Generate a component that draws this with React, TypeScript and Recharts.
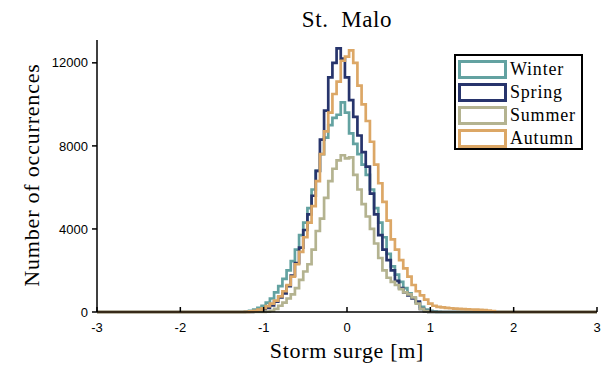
import { LineChart, Line, XAxis, YAxis, Label } from 'recharts';

// bin centres [m]; the outer -3 / 3 points only carry the empty tails
const surge = [
  -3, -1.3, -1.25, -1.2, -1.15, -1.1, -1.05, -1.0, -0.95, -0.9, -0.85, -0.8, -0.75, -0.7, -0.65,
  -0.6, -0.55, -0.5, -0.45, -0.4, -0.35, -0.3, -0.25, -0.2, -0.15, -0.1, -0.05, 0.0, 0.05, 0.1,
  0.15, 0.2, 0.25, 0.3, 0.35, 0.4, 0.45, 0.5, 0.55, 0.6, 0.65, 0.7, 0.75, 0.8, 0.85, 0.9, 0.95,
  1.0, 1.05, 1.1, 1.15, 1.2, 1.25, 1.3, 1.35, 1.4, 1.45, 1.5, 1.55, 1.6, 1.65, 1.7, 1.75, 1.8, 3,
];

const winter = [
  0, 0, 0, 20, 60, 120, 200, 300, 450, 650, 950, 1250, 1600, 2000, 2450, 3000, 3700, 4300, 5000,
  5900, 6800, 7600, 8400, 9000, 9350, 9500, 10100, 9600, 8600, 8100, 7600, 7100, 6600, 5900, 5000,
  4300, 3600, 2800, 2200, 1800, 1450, 1150, 900, 700, 450, 250, 120, 60, 30, 10, 0, 0, 0, 0, 0, 0,
  0, 0, 0, 0, 0, 0, 0, 0, 0,
];
const spring = [
  0, 0, 0, 0, 10, 30, 60, 120, 200, 320, 500, 700, 900, 1250, 1750, 2350, 3100, 3950, 4700, 5600,
  6800, 8300, 9700, 11300, 12000, 12700, 12200, 11300, 10200, 9400, 8500, 7700, 7000, 5700, 4700,
  3700, 3000, 2500, 2000, 1500, 1150, 950, 800, 650, 500, 150, 40, 10, 0, 0, 0, 0, 0, 0, 0, 0, 0,
  0, 0, 0, 0, 0, 0, 0, 0,
];
const summer = [
  0, 0, 0, 0, 0, 0, 0, 0, 20, 60, 150, 300, 450, 650, 850, 1150, 1550, 1950, 2300, 3000, 3900, 4500,
  5500, 6300, 6900, 7300, 7550, 7400, 7450, 6600, 5900, 5200, 4600, 4000, 3300, 2600, 2000, 1650,
  1450, 1300, 1100, 950, 850, 700, 400, 150, 40, 0, 0, 0, 0, 0, 0, 0, 0, 0, 0, 0, 0, 0, 0, 0, 0, 0,
  0,
];
const autumn = [
  0, 0, 0, 10, 30, 60, 110, 180, 280, 400, 550, 750, 1000, 1300, 1700, 2300, 2900, 3600, 4300, 5100,
  6300, 7600, 8700, 9600, 10500, 11100, 12100, 12300, 12600, 12000, 10900, 10000, 9200, 8200, 7100,
  6200, 5300, 4400, 3500, 3000, 2500, 2100, 1700, 1300, 1000, 800, 600, 400, 300, 250, 220, 200,
  180, 160, 150, 140, 130, 120, 110, 100, 90, 70, 40, 0, 0,
];

const xTicks = [-3, -2, -1, 0, 1, 2, 3];
const yTicks = [0, 4000, 8000, 12000];

const seasons = [
  { key: 'winter', name: 'Winter', color: '#63a2a1' },
  { key: 'spring', name: 'Spring', color: '#27346c' },
  { key: 'summer', name: 'Summer', color: '#b4b390' },
  { key: 'autumn', name: 'Autumn', color: '#dca766' },
];

const data = surge.map((x, i) => ({
  x,
  winter: winter[i],
  spring: spring[i],
  summer: summer[i],
  autumn: autumn[i],
}));

const serif = '"Liberation Serif", serif';
const sans = '"Liberation Sans", Arial, sans-serif';

// ticks point into the plot on the x axis
const XTick = (props: any) => {
  const { x, y, payload } = props;
  return (
    <g>
      <line x1={x} x2={x} y1={y - 11} y2={y - 16} stroke="#000" strokeWidth={1.5} />
      <text x={x} y={y} dy="0.71em" textAnchor="middle" fontSize={13} fontFamily={sans} fill="#000">
        {payload.value}
      </text>
    </g>
  );
};

const XLabel = (props: any) => {
  const vb = props.viewBox || { x: 97, y: 312, width: 500, height: 55 };
  return (
    <text
      x={vb.x + vb.width / 2}
      y={358}
      textAnchor="middle"
      fontSize={22}
      letterSpacing={0.7}
      fontFamily={serif}
      fill="#000"
    >
      Storm surge [m]
    </text>
  );
};

const YLabel = () => {
  const cx = 31;
  const cy = 175;
  return (
    <text
      x={cx}
      y={cy}
      transform={`rotate(-90, ${cx}, ${cy})`}
      textAnchor="middle"
      dominantBaseline="central"
      fontSize={22}
      letterSpacing={0.8}
      fontFamily={serif}
      fill="#000"
    >
      Number of occurrences
    </text>
  );
};

export default function App() {
  return (
    <div style={{ position: 'absolute', left: 0, top: 0, width: 610, height: 367, background: '#fff' }}>
      <LineChart width={610} height={367} data={data} margin={{ top: 40, right: 13, bottom: 0, left: 0 }}>
        <XAxis
          dataKey="x"
          type="number"
          domain={[-3, 3]}
          ticks={xTicks}
          height={55}
          tickSize={0}
          tickMargin={11}
          tick={<XTick />}
          axisLine={{ stroke: '#000', strokeWidth: 1.5 }}
        >
          <Label content={<XLabel />} />
        </XAxis>
        <YAxis
          type="number"
          domain={[0, 13100]}
          ticks={yTicks}
          width={97}
          tickSize={5}
          tickMargin={4}
          tick={{ fontSize: 13, fontFamily: sans, fill: '#000' }}
          tickLine={{ stroke: '#000', strokeWidth: 1.5 }}
          axisLine={{ stroke: '#000', strokeWidth: 1.5 }}
        >
          <Label content={<YLabel />} />
        </YAxis>
        {seasons.map((s) => (
          <Line
            key={s.key}
            type="step"
            dataKey={s.key}
            name={s.name}
            stroke={s.color}
            strokeWidth={2.7}
            dot={false}
            isAnimationActive={false}
          />
        ))}
      </LineChart>
      <svg width={610} height={40} style={{ position: 'absolute', left: 0, top: 0 }}>
        <text x={347} y={27} textAnchor="middle" fontSize={23} letterSpacing={0.6} fontFamily={serif} fill="#000">
          {'St.\u00a0 Malo'}
        </text>
      </svg>
      <div
        style={{
          position: 'absolute',
          left: 454,
          top: 54,
          width: 129,
          height: 96,
          border: '2px solid #000',
          background: '#fff',
          padding: '2px 0 0 2px',
          boxSizing: 'border-box',
        }}
      >
        {seasons.map((s) => (
          <div key={s.key} style={{ display: 'flex', alignItems: 'center', height: 23 }}>
            <div
              style={{
                width: 49,
                height: 19,
                border: `3px solid ${s.color}`,
                boxSizing: 'border-box',
                marginRight: 3,
                flexShrink: 0,
              }}
            />
            <span style={{ fontFamily: serif, fontSize: 18, letterSpacing: 0.8, lineHeight: '23px', color: '#000' }}>
              {s.name}
            </span>
          </div>
        ))}
      </div>
    </div>
  );
}
